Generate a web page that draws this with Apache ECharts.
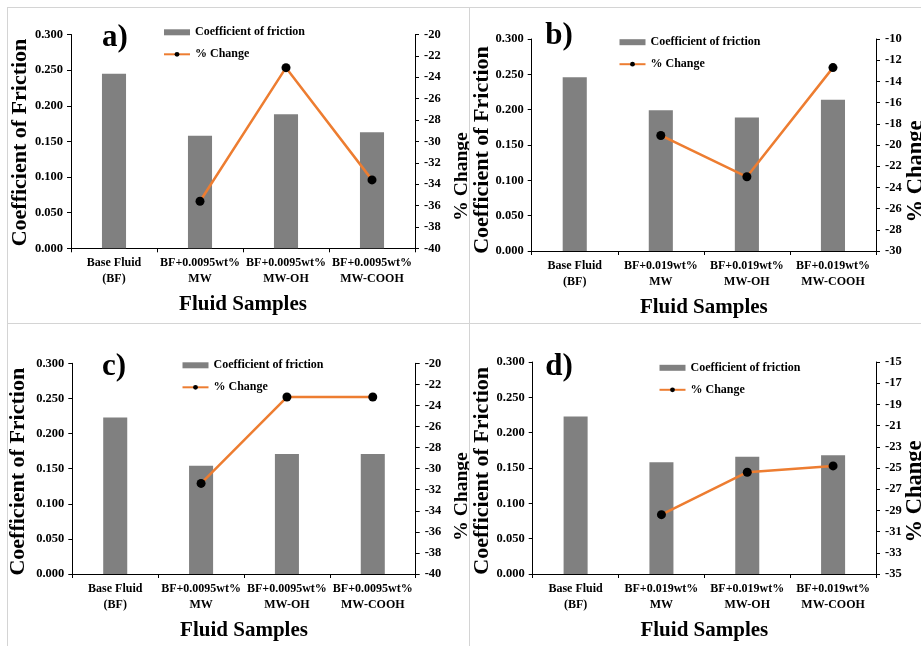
<!DOCTYPE html>
<html>
<head>
<meta charset="utf-8">
<script src="https://cdn.jsdelivr.net/npm/echarts@6/dist/echarts.min.js"></script>
<style>
  html, body { margin: 0; padding: 0; background: #fff; width: 921px; height: 646px; overflow: hidden; }
  .cell { position: absolute; box-sizing: border-box; border-left: 1px solid #d4d4d4; border-top: 1px solid #d4d4d4; }
  .cell > div { width: 100%; height: 100%; }
</style>
</head>
<body>
<div class="cell" style="left:7px;top:7px;width:462px;height:316px"><div id="chartA"></div></div>
<div class="cell" style="left:469px;top:7px;width:452px;height:316px"><div id="chartB"></div></div>
<div class="cell" style="left:7px;top:323px;width:462px;height:323px"><div id="chartC"></div></div>
<div class="cell" style="left:469px;top:323px;width:452px;height:323px"><div id="chartD"></div></div>
<script>
// Fluid sample names (two concentrations of MWCNT additives)
const categories0095 = ['Base Fluid\n(BF)', 'BF+0.0095wt%\nMW', 'BF+0.0095wt%\nMW-OH', 'BF+0.0095wt%\nMW-COOH'];
const categories019 = ['Base Fluid\n(BF)', 'BF+0.019wt%\nMW', 'BF+0.019wt%\nMW-OH', 'BF+0.019wt%\nMW-COOH'];

// Coefficient of friction per sample
const cofA = [0.245, 0.158, 0.188, 0.163];
const cofB = [0.246, 0.199, 0.189, 0.214];
const cofC = [0.223, 0.154, 0.171, 0.171];
const cofD = [0.223, 0.158, 0.166, 0.168];

// % change relative to the base fluid (no value for the base fluid itself)
const changeA = [null, -35.6, -23.1, -33.6];
const changeB = [null, -19.1, -23.0, -12.7];
const changeC = [null, -31.4, -23.2, -23.2];
const changeD = [null, -29.4, -25.4, -24.8];

// Axis ticks
const cofTicks = [0, 0.05, 0.10, 0.15, 0.20, 0.25, 0.30];
const changeTicksA = [-40, -38, -36, -34, -32, -30, -28, -26, -24, -22, -20];
const changeTicksB = [-30, -28, -26, -24, -22, -20, -18, -16, -14, -12, -10];
const changeTicksC = [-40, -38, -36, -34, -32, -30, -28, -26, -24, -22, -20];
const changeTicksD = [-35, -33, -31, -29, -27, -25, -23, -21, -19, -17, -15];

const SERIF = '"Liberation Serif", "Times New Roman", serif';
const BAR_NAME = 'Coefficient of friction';
const LINE_NAME = '% Change';

// Per-panel layout (pixels inside each cell)
const panels = [
  { id: 'chartA', letter: 'a)', cats: categories0095, cof: cofA, change: changeA, ticks: changeTicksA,
    grid: { left: 63, top: 26.5, width: 344, height: 213.8 },
    legend: { left: 150, top: 12.3 }, letterPos: [107, 29.5],
    leftTitle: [12, 134.5], rightTitle: [454, 168.5], rightSize: 19.5 },
  { id: 'chartB', letter: 'b)', cats: categories019, cof: cofB, change: changeB, ticks: changeTicksB,
    grid: { left: 61.7, top: 31, width: 344.3, height: 214.3 },
    legend: { left: 143.5, top: 22.2 }, letterPos: [89, 28],
    leftTitle: [12.5, 142], rightTitle: [446, 163.5], rightSize: 22.5 },
  { id: 'chartC', letter: 'c)', cats: categories0095, cof: cofC, change: changeC, ticks: changeTicksC,
    grid: { left: 64.3, top: 39.3, width: 343.4, height: 214 },
    legend: { left: 168.5, top: 29.3 }, letterPos: [106, 42.5],
    leftTitle: [10.3, 147.7], rightTitle: [454, 172.5], rightSize: 19.5 },
  { id: 'chartD', letter: 'd)', cats: categories019, cof: cofD, change: changeD, ticks: changeTicksD,
    grid: { left: 62.7, top: 38, width: 343.3, height: 214 },
    legend: { left: 183.5, top: 31.8 }, letterPos: [89, 42.5],
    leftTitle: [12.5, 146.8], rightTitle: [445, 167.5], rightSize: 22.5 }
];

const axisText = { fontFamily: SERIF, fontWeight: 'bold', fontSize: 12.5, color: '#000' };
const categoryText = { fontFamily: SERIF, fontWeight: 'bold', fontSize: 12, color: '#000' };
const axisLine = { show: true, lineStyle: { color: '#000', width: 1 } };

function buildOption(p) {
  return {
    animation: false,
    backgroundColor: '#fff',
    grid: p.grid,
    legend: {
      orient: 'vertical',
      left: p.legend.left,
      top: p.legend.top,
      itemWidth: 26,
      itemHeight: 6,
      itemGap: 8,
      selectedMode: false,
      textStyle: { fontFamily: SERIF, fontWeight: 'bold', fontSize: 12, color: '#000', lineHeight: 14 },
      data: [{ name: BAR_NAME, icon: 'rect' }, { name: LINE_NAME }]
    },
    xAxis: {
      type: 'category',
      data: p.cats,
      boundaryGap: true,
      axisLine: axisLine,
      axisTick: { show: true, length: 4, alignWithLabel: false, lineStyle: { color: '#000' } },
      axisLabel: Object.assign({ margin: 7, lineHeight: 16, interval: 0 }, categoryText),
      splitLine: { show: false },
      name: 'Fluid Samples',
      nameLocation: 'middle',
      nameGap: 46,
      nameTextStyle: { fontFamily: SERIF, fontWeight: 'bold', fontSize: 21, color: '#000' }
    },
    yAxis: [
      {
        type: 'value',
        min: cofTicks[0],
        max: cofTicks[cofTicks.length - 1],
        axisLine: axisLine,
        axisTick: { show: true, length: 4, customValues: cofTicks, lineStyle: { color: '#000' } },
        axisLabel: Object.assign({ margin: 8, customValues: cofTicks, formatter: v => v.toFixed(3) }, axisText),
        splitLine: { show: false }
      },
      {
        type: 'value',
        position: 'right',
        min: p.ticks[0],
        max: p.ticks[p.ticks.length - 1],
        axisLine: axisLine,
        axisTick: { show: true, length: 4, customValues: p.ticks, lineStyle: { color: '#000' } },
        axisLabel: Object.assign({ margin: 9, customValues: p.ticks, formatter: v => String(v) }, axisText),
        splitLine: { show: false }
      }
    ],
    series: [
      {
        name: BAR_NAME,
        type: 'bar',
        yAxisIndex: 0,
        data: p.cof,
        barWidth: '28%',
        itemStyle: { color: '#808080' },
        emphasis: { disabled: true }
      },
      {
        name: LINE_NAME,
        type: 'line',
        yAxisIndex: 1,
        data: p.change,
        symbol: 'circle',
        symbolSize: 9,
        lineStyle: { color: '#ED7D31', width: 2.5 },
        itemStyle: { color: '#000' },
        emphasis: { disabled: true },
        z: 3
      }
    ],
    graphic: [
      { type: 'text', x: p.letterPos[0], y: p.letterPos[1],
        style: { text: p.letter, font: 'bold 31px ' + SERIF, fill: '#000', align: 'center', verticalAlign: 'middle' } },
      { type: 'text', x: p.leftTitle[0], y: p.leftTitle[1], rotation: Math.PI / 2,
        style: { text: 'Coefficient of Friction', font: 'bold 22px ' + SERIF, fill: '#000', align: 'center', verticalAlign: 'middle' } },
      { type: 'text', x: p.rightTitle[0], y: p.rightTitle[1], rotation: Math.PI / 2,
        style: { text: '% Change', font: 'bold ' + p.rightSize + 'px ' + SERIF, fill: '#000', align: 'center', verticalAlign: 'middle' } }
    ]
  };
}

panels.forEach(p => {
  const chart = echarts.init(document.getElementById(p.id), null, { renderer: 'canvas' });
  chart.setOption(buildOption(p));
});
</script>
</body>
</html>
